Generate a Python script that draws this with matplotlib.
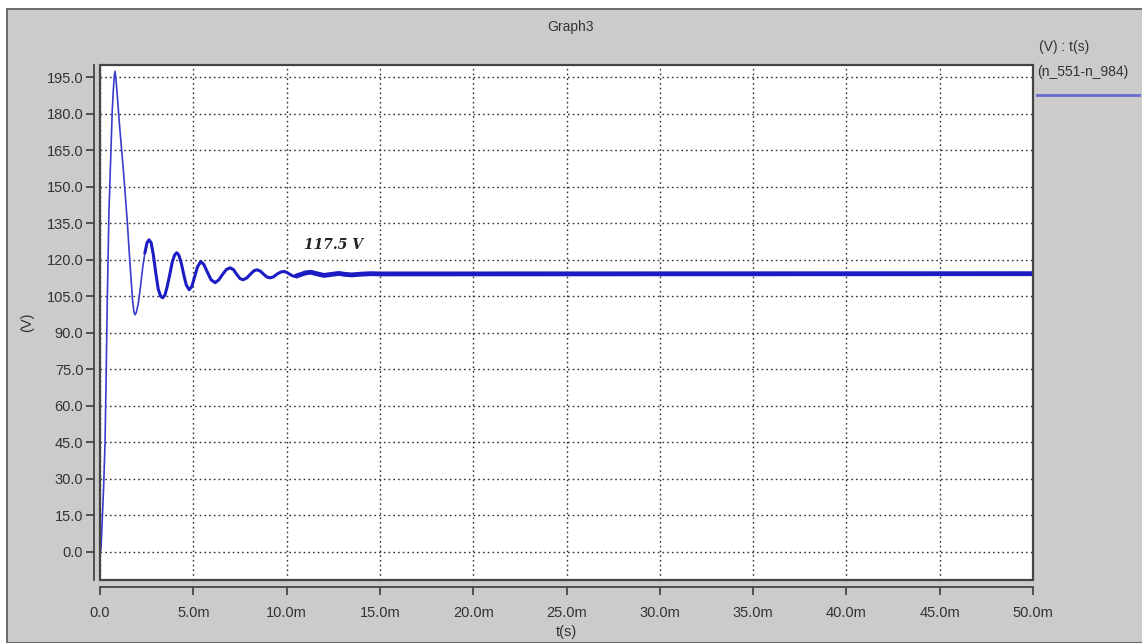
import matplotlib
matplotlib.use("Agg")
import matplotlib.pyplot as plt
from matplotlib.patches import Rectangle
from matplotlib.lines import Line2D
import numpy as np

plt.rcParams['font.family'] = ['Liberation Sans', 'DejaVu Sans']

# tiempo en ms, tension en V
t_ms = [0.00, 0.05, 0.09, 0.15, 0.20, 0.27, 0.32, 0.39, 0.48, 0.57, 0.66, 0.71, 0.76,
        0.80, 0.85, 0.92, 1.05, 1.25, 1.45, 1.62, 1.75, 1.82, 1.88, 1.95, 2.05, 2.17, 2.29, 2.41,
        2.52, 2.63, 2.74, 2.86, 3.00, 3.12, 3.25, 3.36, 3.48, 3.60, 3.74, 3.87, 4.00,
        4.11, 4.22, 4.36, 4.50, 4.63, 4.78, 4.92, 5.07, 5.22, 5.40, 5.57, 5.75, 5.95,
        6.17, 6.37, 6.57, 6.77, 6.97, 7.15, 7.33, 7.50, 7.67, 7.86, 8.05, 8.25, 8.42,
        8.60, 8.78, 8.95, 9.12, 9.30, 9.50, 9.70, 9.87, 10.02, 10.18, 10.32, 10.46,
        10.70, 11.00, 11.30, 11.65, 12.00, 12.40, 12.80, 13.15, 13.50, 14.00, 14.50,
        15.00, 50.00]
v = [0.0, 1.0, 7.8, 18.5, 28.0, 45.0, 68.0, 103.0, 140.0, 161.0, 182.0, 189.0, 195.0,
     197.4, 195.0, 188.0, 175.0, 157.0, 137.0, 117.0, 103.0, 98.5, 97.4, 98.5, 102.0, 109.0, 117.0, 123.0,
     127.0, 128.2, 127.0, 122.0, 114.0, 108.0, 105.0, 104.4, 105.5, 109.0, 114.0, 119.0, 122.0,
     122.9, 122.0, 118.5, 113.5, 109.5, 107.7, 109.0, 113.0, 117.0, 119.3, 118.0, 115.0, 111.8,
     110.6, 111.8, 114.0, 116.0, 116.7, 116.0, 114.0, 112.3, 111.8, 112.5, 114.0, 115.5, 115.9,
     115.3, 114.0, 112.9, 112.6, 113.0, 114.2, 115.0, 115.2, 114.8, 114.0, 113.4, 113.2,
     113.8, 114.6, 114.9, 114.2, 113.6, 114.0, 114.4, 114.0, 113.8, 114.1, 114.3,
     114.2, 114.3]

y_ticks = np.arange(0, 196, 15)
x_ticks = np.arange(0, 51, 5)
x_labels = ['0.0'] + [f'{x:.1f}m' for x in x_ticks[1:]]

t_ms = np.array(t_ms)
v = np.array(v)

fig = plt.figure(figsize=(11.42, 6.43), dpi=100, facecolor='white')
fig.patches.append(Rectangle((7 / 1142, 0), 1, 634 / 643, transform=fig.transFigure,
                             facecolor='#cbcbcb', edgecolor='#555555', lw=1.2, zorder=-10))

ax = fig.add_axes([100 / 1142, 63 / 643, 933 / 1142, 515 / 643])
ax.set_facecolor('white')

azul = '#1c1cc4'
m1 = t_ms <= 2.42
m2 = (t_ms >= 2.41) & (t_ms <= 10.5)
m3 = t_ms >= 10.4
ax.plot(t_ms[m1], v[m1], color='#3a3acc', lw=1.2)
ax.plot(t_ms[m2], v[m2], color=azul, lw=2.2)
ax.plot(t_ms[m3], v[m3], color=azul, lw=3.5, solid_capstyle='butt')

ax.set_xlim(0, 50)
ax.set_ylim(-11.5, 200)
ax.set_xticks(x_ticks)
ax.set_xticklabels(x_labels)
ax.set_yticks(y_ticks)
ax.set_yticklabels([f'{y:.1f}' for y in y_ticks])

ax.grid(True, color='#333333', linestyle=(0, (1.2, 2.2)), lw=1.0)

for s in ['top', 'right']:
    ax.spines[s].set_visible(False)
ax.spines['left'].set_position(('outward', 4))
ax.spines['bottom'].set_position(('outward', 5))
ax.spines['left'].set_color('#444444')
ax.spines['bottom'].set_color('#444444')
ax.spines['left'].set_linewidth(1.3)
ax.spines['bottom'].set_linewidth(1.3)
ax.add_patch(Rectangle((0, 0), 1, 1, transform=ax.transAxes, fill=False,
                       edgecolor='#444444', lw=1.6, clip_on=False, zorder=5))

ax.tick_params(axis='both', colors='#444444', labelcolor='#333333', labelsize=10.5,
               length=6, width=1.3, direction='out')
ax.tick_params(axis='x', pad=8)
ax.tick_params(axis='y', pad=2)

ax.set_xlabel('t(s)', fontsize=10.5, color='#333333', labelpad=3)
ax.set_ylabel('(V)', fontsize=10.5, color='#333333', labelpad=9)

ax.text(12.5, 126, '117.5 V', fontsize=10, style='italic', weight='bold',
        family='DejaVu Serif', color='#222222', ha='center', va='center')

fig.text(571 / 1142, 1 - 27 / 643, 'Graph3', fontsize=10, color='#333333',
         ha='center', va='center')
fig.text(1039 / 1142, 1 - 47 / 643, '(V) : t(s)', fontsize=10, color='#333333',
         ha='left', va='center')
fig.text(1037 / 1142, 1 - 72 / 643, '(n_551-n_984)', fontsize=10, color='#333333',
         ha='left', va='center')
fig.lines.append(Line2D([1037 / 1142, 1139 / 1142], [1 - 95 / 643, 1 - 95 / 643],
                        transform=fig.transFigure, color='#6a6ad6', lw=2))

fig.savefig('out.png', dpi=100, facecolor=fig.get_facecolor())
